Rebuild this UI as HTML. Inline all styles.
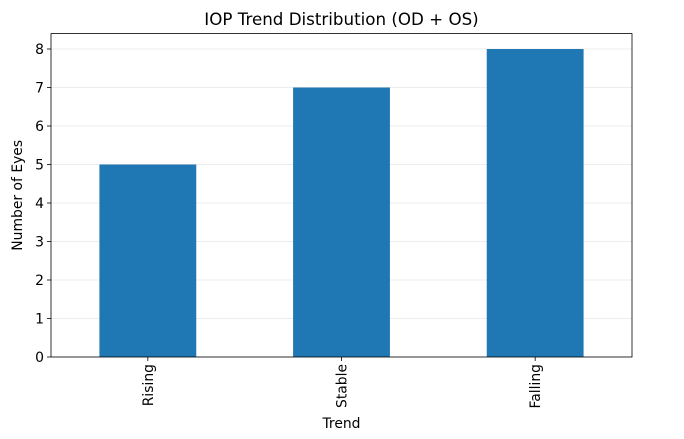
<!DOCTYPE html>
<html><head><meta charset="utf-8"><style>
body{margin:0;background:#fff;font-family:"DejaVu Sans","Liberation Sans",sans-serif}
</style></head><body>
<svg id="chart" width="684" height="435" xmlns="http://www.w3.org/2000/svg" font-family="DejaVu Sans, Liberation Sans, sans-serif"></svg>
<script>
const categories=["Rising","Stable","Falling"];
const values=[5,7,8];
const yTicks=[0,1,2,3,4,5,6,7,8];
const svg=document.getElementById('chart');
const NS="http://www.w3.org/2000/svg";
const L=51,R=632,T=33.6,B=357,yMax=8.4;
const y=v=>B-(v/yMax)*(B-T);
const step=(R-L)/categories.length;
const x=i=>L+step*(i+0.5);
function mk(t,a,txt){const e=document.createElementNS(NS,t);for(const k in a)e.setAttribute(k,a[k]);if(txt!==undefined)e.textContent=txt;svg.appendChild(e);return e;}
yTicks.forEach(v=>{
  const g=mk('line',{x1:L,x2:R,y1:y(v),y2:y(v),stroke:'#e6e6e6','stroke-width':0.8});
  
  
});
categories.forEach((c,i)=>{
  const w=step*0.5;
  const b=mk('rect',{x:x(i)-w/2,y:y(values[i]),width:w,height:B-y(values[i]),fill:'#1f77b4'});
  
  
  const tk=mk('line',{x1:x(i),x2:x(i),y1:B,y2:B+4,stroke:'#000','stroke-width':0.8});
  
  
  const t=mk('text',{x:0,y:0,transform:`translate(${x(i)+5},${B+7}) rotate(-90)`,'text-anchor':'end','font-size':13.9,fill:'#000'},c);
  
  
});
yTicks.forEach(v=>{
  const tk=mk('line',{x1:L-4,x2:L,y1:y(v),y2:y(v),stroke:'#000','stroke-width':0.8});
  
  
  const t=mk('text',{x:L-7,y:y(v)+5,'text-anchor':'end','font-size':13.9,fill:'#000'},v);
  
  
});
const fr=mk('rect',{x:L,y:T,width:R-L,height:B-T,fill:'none',stroke:'#000','stroke-width':0.8});


const ti=mk('text',{x:(L+R)/2,y:25,'text-anchor':'middle','font-size':16.7,fill:'#000'},'IOP Trend Distribution (OD + OS)');


const xt=mk('text',{x:(L+R)/2,y:428,'text-anchor':'middle','font-size':13.9,fill:'#000'},'Trend');


const yt=mk('text',{x:0,y:0,transform:`translate(22,${(T+B)/2}) rotate(-90)`,'text-anchor':'middle','font-size':13.9,fill:'#000'},'Number of Eyes');


</script>
</body></html>
